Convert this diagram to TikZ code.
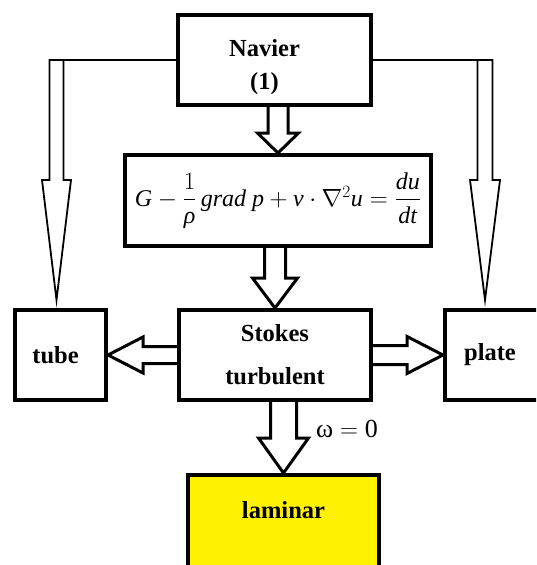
\documentclass[tikz,border=0pt]{standalone}
\usepackage{amsmath}
\usepackage{fontspec}
\setmainfont{Liberation Serif}
\usetikzlibrary{calc}
\definecolor{lamyellow}{RGB}{255,242,0}

% block arrow pointing down: from, to, half shaft, half head, head length
\newcommand{\downblock}[5]{%
  \draw[blockarr] let \p1=(#1),\p2=(#2) in
    (\x2-#3pt,\y1) -- (\x2-#3pt,\y2+#5pt) -- (\x2-#4pt,\y2+#5pt) -- (\p2)
    -- (\x2+#4pt,\y2+#5pt) -- (\x2+#3pt,\y2+#5pt) -- (\x2+#3pt,\y1);}
% block arrow pointing sideways
\newcommand{\sideblock}[5]{%
  \draw[blockarr] let \p1=(#1),\p2=(#2),\n1={sign(\x2-\x1)} in
    (\x1,\y2+#3pt) -- (\x2-\n1*#5pt,\y2+#3pt) -- (\x2-\n1*#5pt,\y2+#4pt) -- (\p2)
    -- (\x2-\n1*#5pt,\y2-#4pt) -- (\x2-\n1*#5pt,\y2-#3pt) -- (\x1,\y2-#3pt);}

\begin{document}
\begin{tikzpicture}[x=1pt,y=-1pt,box/.style={draw,line width=4pt,inner sep=0pt,align=center,font=\bfseries\fontsize{24.5}{33}\selectfont},blockarr/.style={line width=3pt,line join=miter},sidearr/.style={line width=1.8pt,line join=miter},lbl/.style={align=center,font=\bfseries\fontsize{24.5}{33}\selectfont}]
\useasboundingbox (0,0) rectangle (536,565);
\clip (0,0) rectangle (536,565);

\node[box,minimum width=193pt,minimum height=90pt] (nav) at (274.5,60) {};
\node[lbl] (navtxt) at ($(nav.center)+(-10,7)$) {Navier\\(1)};
\node[box,minimum width=306pt,minimum height=91pt,font=\fontsize{24}{28}\selectfont] (eq) at (278,200.5) {$\textit{G}-\dfrac{1}{\textit{ρ}}\,\textit{grad p}+\textit{ν}\cdot\nabla^{2}\textit{u}=\dfrac{\textit{du}}{\textit{dt}}$};
\node[box,minimum width=192pt,minimum height=90pt] (sto) at (275,355) {Stokes\\[10pt]turbulent};
\node[box,minimum width=91pt,minimum height=90pt] (tube) at (60.5,355) {tube\hspace*{10pt}};
\node[box,minimum width=100pt,minimum height=90pt] (plate) at (495,355) {plate\hspace*{10pt}};
\node[box,fill=lamyellow,minimum width=191pt,minimum height=100pt] (lam) at (283.5,525) {};
\node[lbl] (lamtxt) at ($(lam.north)+(0,37)$) {laminar};
\node[lbl,font=\fontsize{26}{30}\selectfont] (omega) at ($(sto.south)+(72,27)$) {ω$\;=\;$0};

\downblock{nav.south}{eq.north}{10}{20.5}{20}
\downblock{eq.south}{sto.north}{10.5}{22.5}{30}
\downblock{sto.south}{lam.north}{13}{25}{35}
\sideblock{sto.west}{tube.east}{8.5}{18}{35}
\sideblock{sto.east}{plate.west}{9.5}{18.5}{36}

\draw[sidearr] let \p1=(nav.west),\p2=($(tube.north)+(-4,-8)$) in
  (\p1) -- (\x2-7pt,\y1) -- (\x2-7pt,\y2+120pt) -- (\x2-14.5pt,\y2+120pt) -- (\p2)
  -- (\x2+14.5pt,\y2+120pt) -- (\x2+7pt,\y2+120pt) -- (\x2+7pt,\y1);
\draw[sidearr] let \p1=(nav.east),\p2=($(plate.north)+(-10,-8)$) in
  (\p1) -- (\x2+7.5pt,\y1) -- (\x2+7.5pt,\y2+120pt) -- (\x2+15pt,\y2+120pt) -- (\p2)
  -- (\x2-15pt,\y2+120pt) -- (\x2-7.5pt,\y2+120pt) -- (\x2-7.5pt,\y1);
\end{tikzpicture}
\end{document}
